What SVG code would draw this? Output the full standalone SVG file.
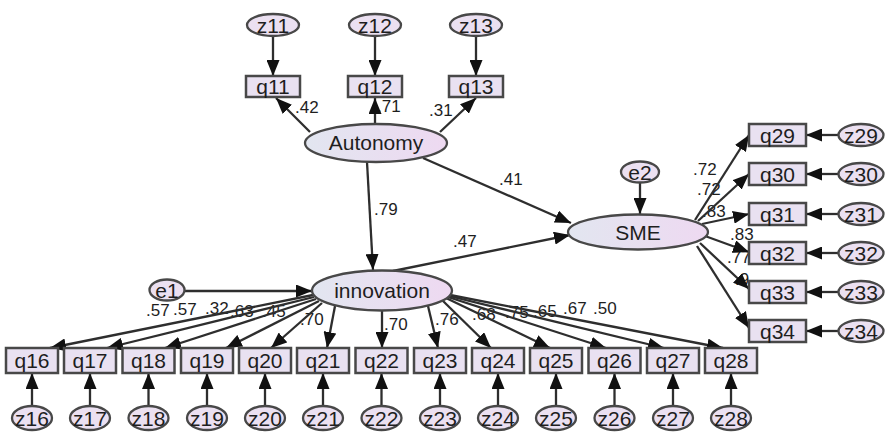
<svg xmlns="http://www.w3.org/2000/svg" width="885" height="434" viewBox="0 0 885 434">
  <defs>
    <linearGradient id="latentFill" x1="0" y1="0" x2="1" y2="0">
      <stop offset="0" stop-color="#e2e6f0"/>
      <stop offset="1" stop-color="#eed9f1"/>
    </linearGradient>
    <marker id="arrow" markerUnits="userSpaceOnUse" markerWidth="16" markerHeight="13" refX="16" refY="6.5" orient="auto">
      <path d="M0,0 L16,6.5 L0,13 z" fill="#111"/>
    </marker>
    <style>
      .obs { fill: #e9e1f1; stroke: #484848; stroke-width: 2.5; }
      .err { fill: #ebe0f1; stroke: #484848; stroke-width: 2.3; }
      .lat { fill: url(#latentFill); stroke: #484848; stroke-width: 2.3; }
      .lbl { font-family: "Liberation Sans", Arial, sans-serif; font-size: 21px; fill: #1e1e1e; text-anchor: middle; }
      .coef { font-family: "Liberation Sans", Arial, sans-serif; font-size: 17px; fill: #1e1e1e; }
      #connectors line { stroke: #2e2e2e; stroke-width: 2.3; marker-end: url(#arrow); }
    </style>
  </defs>
  <rect width="885" height="434" fill="#fff"/>

  <!-- path coefficients -->
  <g id="coefficients" class="coef">
    <text x="295" y="113">.42</text>
    <text x="377" y="112">.71</text>
    <text x="429" y="116">.31</text>
    <text x="374" y="215">.79</text>
    <text x="499" y="185">.41</text>
    <text x="453" y="247">.47</text>
    <text x="693" y="175">.72</text>
    <text x="697" y="195">.72</text>
    <text x="702" y="217">.83</text>
    <text x="730" y="240">.83</text>
    <text x="727" y="263">.77</text>
    <text x="735" y="285">.9</text>
    <text x="146" y="315.5">.57</text>
    <text x="173" y="315">.57</text>
    <text x="205" y="313.5">.32</text>
    <text x="230" y="317">.63</text>
    <text x="262" y="317">.45</text>
    <text x="300" y="325">.70</text>
    <text x="384" y="330">.70</text>
    <text x="435" y="325">.76</text>
    <text x="472" y="320">.68</text>
    <text x="505" y="318">.75</text>
    <text x="533" y="317">.65</text>
    <text x="563" y="314">.67</text>
    <text x="593" y="314">.50</text>
  </g>

  <!-- arrows -->
  <g id="connectors">
    <!-- errors into autonomy indicators -->
    <line x1="273" y1="36" x2="273" y2="76"/>
    <line x1="375" y1="36" x2="375" y2="76"/>
    <line x1="476" y1="36" x2="476" y2="76"/>
    <!-- autonomy loadings -->
    <line x1="310" y1="132" x2="276" y2="98"/>
    <line x1="375" y1="124" x2="375" y2="98"/>
    <line x1="440" y1="132" x2="476" y2="98"/>
    <!-- structural paths -->
    <line x1="367" y1="162" x2="373" y2="270"/>
    <line x1="423" y1="158" x2="571" y2="223"/>
    <line x1="393" y1="271" x2="570" y2="235"/>
    <line x1="640" y1="182" x2="640" y2="214"/>
    <line x1="185" y1="291" x2="312" y2="291"/>
    <!-- SME loadings -->
    <line x1="695" y1="220" x2="749" y2="135"/>
    <line x1="698" y1="221" x2="749" y2="174"/>
    <line x1="702" y1="224" x2="749" y2="214"/>
    <line x1="705" y1="236" x2="749" y2="252"/>
    <line x1="700" y1="243" x2="749" y2="289"/>
    <line x1="697" y1="246" x2="749" y2="328"/>
    <!-- errors into SME indicators -->
    <line x1="838" y1="135" x2="806" y2="135"/>
    <line x1="838" y1="174" x2="806" y2="174"/>
    <line x1="838" y1="214" x2="806" y2="214"/>
    <line x1="838" y1="253" x2="806" y2="253"/>
    <line x1="838" y1="292" x2="806" y2="292"/>
    <line x1="838" y1="331" x2="806" y2="331"/>
    <!-- innovation loadings -->
    <line x1="313" y1="295" x2="50" y2="348"/>
    <line x1="314" y1="297" x2="107" y2="348"/>
    <line x1="316" y1="299" x2="165" y2="348"/>
    <line x1="319" y1="301" x2="226" y2="348"/>
    <line x1="322" y1="303" x2="271" y2="348"/>
    <line x1="335" y1="306" x2="327" y2="348"/>
    <line x1="382" y1="310" x2="382" y2="348"/>
    <line x1="428" y1="306" x2="438" y2="348"/>
    <line x1="442" y1="300" x2="491" y2="348"/>
    <line x1="446" y1="298" x2="550" y2="348"/>
    <line x1="448" y1="297" x2="606" y2="348"/>
    <line x1="449" y1="296" x2="664" y2="348"/>
    <line x1="450" y1="295" x2="723" y2="348"/>
    <!-- errors into innovation indicators -->
    <line x1="32" y1="406" x2="32" y2="373"/>
    <line x1="90" y1="406" x2="90" y2="373"/>
    <line x1="148.5" y1="406" x2="148.5" y2="373"/>
    <line x1="207" y1="406" x2="207" y2="373"/>
    <line x1="265" y1="406" x2="265" y2="373"/>
    <line x1="323" y1="406" x2="323" y2="373"/>
    <line x1="381.5" y1="406" x2="381.5" y2="373"/>
    <line x1="440" y1="406" x2="440" y2="373"/>
    <line x1="498" y1="406" x2="498" y2="373"/>
    <line x1="556" y1="406" x2="556" y2="373"/>
    <line x1="614.5" y1="406" x2="614.5" y2="373"/>
    <line x1="673" y1="406" x2="673" y2="373"/>
    <line x1="731" y1="406" x2="731" y2="373"/>
  </g>

  <!-- latent variables -->
  <g id="autonomy"><ellipse class="lat" cx="376" cy="143" rx="71" ry="19"/><text class="lbl" x="376" y="150">Autonomy</text></g>
  <g id="innovation"><ellipse class="lat" cx="382" cy="290.5" rx="70" ry="20"/><text class="lbl" x="382" y="298">innovation</text></g>
  <g id="sme"><ellipse class="lat" cx="638" cy="232" rx="70" ry="17.5"/><text class="lbl" x="638" y="240">SME</text></g>
  <g id="e1"><ellipse class="err" cx="167" cy="290" rx="17.5" ry="10.5"/><text class="lbl" x="167" y="297.5">e1</text></g>
  <g id="e2"><ellipse class="err" cx="640" cy="172" rx="19" ry="10.5"/><text class="lbl" x="640" y="179.5">e2</text></g>

  <!-- autonomy indicators -->
  <g id="z11"><ellipse class="err" cx="273" cy="25" rx="26" ry="11"/><text class="lbl" x="273" y="32.5">z11</text></g>
  <g id="z12"><ellipse class="err" cx="375" cy="25" rx="26" ry="11"/><text class="lbl" x="375" y="32.5">z12</text></g>
  <g id="z13"><ellipse class="err" cx="476" cy="25" rx="26" ry="11"/><text class="lbl" x="476" y="32.5">z13</text></g>
  <g id="q11"><rect class="obs" x="246" y="76" width="54" height="21"/><text class="lbl" x="273" y="94">q11</text></g>
  <g id="q12"><rect class="obs" x="348" y="76" width="54" height="21"/><text class="lbl" x="375" y="94">q12</text></g>
  <g id="q13"><rect class="obs" x="449" y="76" width="54" height="21"/><text class="lbl" x="476" y="94">q13</text></g>

  <!-- SME indicators -->
  <g id="q29"><rect class="obs" x="749" y="124" width="57" height="22"/><text class="lbl" x="777.5" y="142.5">q29</text></g>
  <g id="q30"><rect class="obs" x="749" y="163" width="57" height="22"/><text class="lbl" x="777.5" y="181.5">q30</text></g>
  <g id="q31"><rect class="obs" x="749" y="203" width="57" height="22"/><text class="lbl" x="777.5" y="221.5">q31</text></g>
  <g id="q32"><rect class="obs" x="749" y="242" width="57" height="22"/><text class="lbl" x="777.5" y="260.5">q32</text></g>
  <g id="q33"><rect class="obs" x="749" y="281" width="57" height="22"/><text class="lbl" x="777.5" y="299.5">q33</text></g>
  <g id="q34"><rect class="obs" x="749" y="320" width="57" height="22"/><text class="lbl" x="777.5" y="338.5">q34</text></g>
  <g id="z29"><ellipse class="err" cx="861" cy="135" rx="22.5" ry="11"/><text class="lbl" x="861" y="142.5">z29</text></g>
  <g id="z30"><ellipse class="err" cx="861" cy="174" rx="22.5" ry="11"/><text class="lbl" x="861" y="181.5">z30</text></g>
  <g id="z31"><ellipse class="err" cx="861" cy="214" rx="22.5" ry="11"/><text class="lbl" x="861" y="221.5">z31</text></g>
  <g id="z32"><ellipse class="err" cx="861" cy="253" rx="22.5" ry="11"/><text class="lbl" x="861" y="260.5">z32</text></g>
  <g id="z33"><ellipse class="err" cx="861" cy="292" rx="22.5" ry="11"/><text class="lbl" x="861" y="299.5">z33</text></g>
  <g id="z34"><ellipse class="err" cx="861" cy="331" rx="22.5" ry="11"/><text class="lbl" x="861" y="338.5">z34</text></g>

  <!-- innovation indicators -->
  <g id="q16"><rect class="obs" x="6" y="348" width="52" height="25"/><text class="lbl" x="32" y="368">q16</text></g>
  <g id="q17"><rect class="obs" x="64" y="348" width="52" height="25"/><text class="lbl" x="90" y="368">q17</text></g>
  <g id="q18"><rect class="obs" x="122.5" y="348" width="52" height="25"/><text class="lbl" x="148.5" y="368">q18</text></g>
  <g id="q19"><rect class="obs" x="181" y="348" width="52" height="25"/><text class="lbl" x="207" y="368">q19</text></g>
  <g id="q20"><rect class="obs" x="239" y="348" width="52" height="25"/><text class="lbl" x="265" y="368">q20</text></g>
  <g id="q21"><rect class="obs" x="297" y="348" width="52" height="25"/><text class="lbl" x="323" y="368">q21</text></g>
  <g id="q22"><rect class="obs" x="355.5" y="348" width="52" height="25"/><text class="lbl" x="381.5" y="368">q22</text></g>
  <g id="q23"><rect class="obs" x="414" y="348" width="52" height="25"/><text class="lbl" x="440" y="368">q23</text></g>
  <g id="q24"><rect class="obs" x="472" y="348" width="52" height="25"/><text class="lbl" x="498" y="368">q24</text></g>
  <g id="q25"><rect class="obs" x="530" y="348" width="52" height="25"/><text class="lbl" x="556" y="368">q25</text></g>
  <g id="q26"><rect class="obs" x="588.5" y="348" width="52" height="25"/><text class="lbl" x="614.5" y="368">q26</text></g>
  <g id="q27"><rect class="obs" x="647" y="348" width="52" height="25"/><text class="lbl" x="673" y="368">q27</text></g>
  <g id="q28"><rect class="obs" x="705" y="348" width="52" height="25"/><text class="lbl" x="731" y="368">q28</text></g>
  <g id="z16"><ellipse class="err" cx="32" cy="418" rx="20" ry="12"/><text class="lbl" x="32" y="425.5">z16</text></g>
  <g id="z17"><ellipse class="err" cx="90" cy="418" rx="20" ry="12"/><text class="lbl" x="90" y="425.5">z17</text></g>
  <g id="z18"><ellipse class="err" cx="148.5" cy="418" rx="20" ry="12"/><text class="lbl" x="148.5" y="425.5">z18</text></g>
  <g id="z19"><ellipse class="err" cx="207" cy="418" rx="20" ry="12"/><text class="lbl" x="207" y="425.5">z19</text></g>
  <g id="z20"><ellipse class="err" cx="265" cy="418" rx="20" ry="12"/><text class="lbl" x="265" y="425.5">z20</text></g>
  <g id="z21"><ellipse class="err" cx="323" cy="418" rx="20" ry="12"/><text class="lbl" x="323" y="425.5">z21</text></g>
  <g id="z22"><ellipse class="err" cx="381.5" cy="418" rx="20" ry="12"/><text class="lbl" x="381.5" y="425.5">z22</text></g>
  <g id="z23"><ellipse class="err" cx="440" cy="418" rx="20" ry="12"/><text class="lbl" x="440" y="425.5">z23</text></g>
  <g id="z24"><ellipse class="err" cx="498" cy="418" rx="20" ry="12"/><text class="lbl" x="498" y="425.5">z24</text></g>
  <g id="z25"><ellipse class="err" cx="556" cy="418" rx="20" ry="12"/><text class="lbl" x="556" y="425.5">z25</text></g>
  <g id="z26"><ellipse class="err" cx="614.5" cy="418" rx="20" ry="12"/><text class="lbl" x="614.5" y="425.5">z26</text></g>
  <g id="z27"><ellipse class="err" cx="673" cy="418" rx="20" ry="12"/><text class="lbl" x="673" y="425.5">z27</text></g>
  <g id="z28"><ellipse class="err" cx="731" cy="418" rx="20" ry="12"/><text class="lbl" x="731" y="425.5">z28</text></g>
</svg>
